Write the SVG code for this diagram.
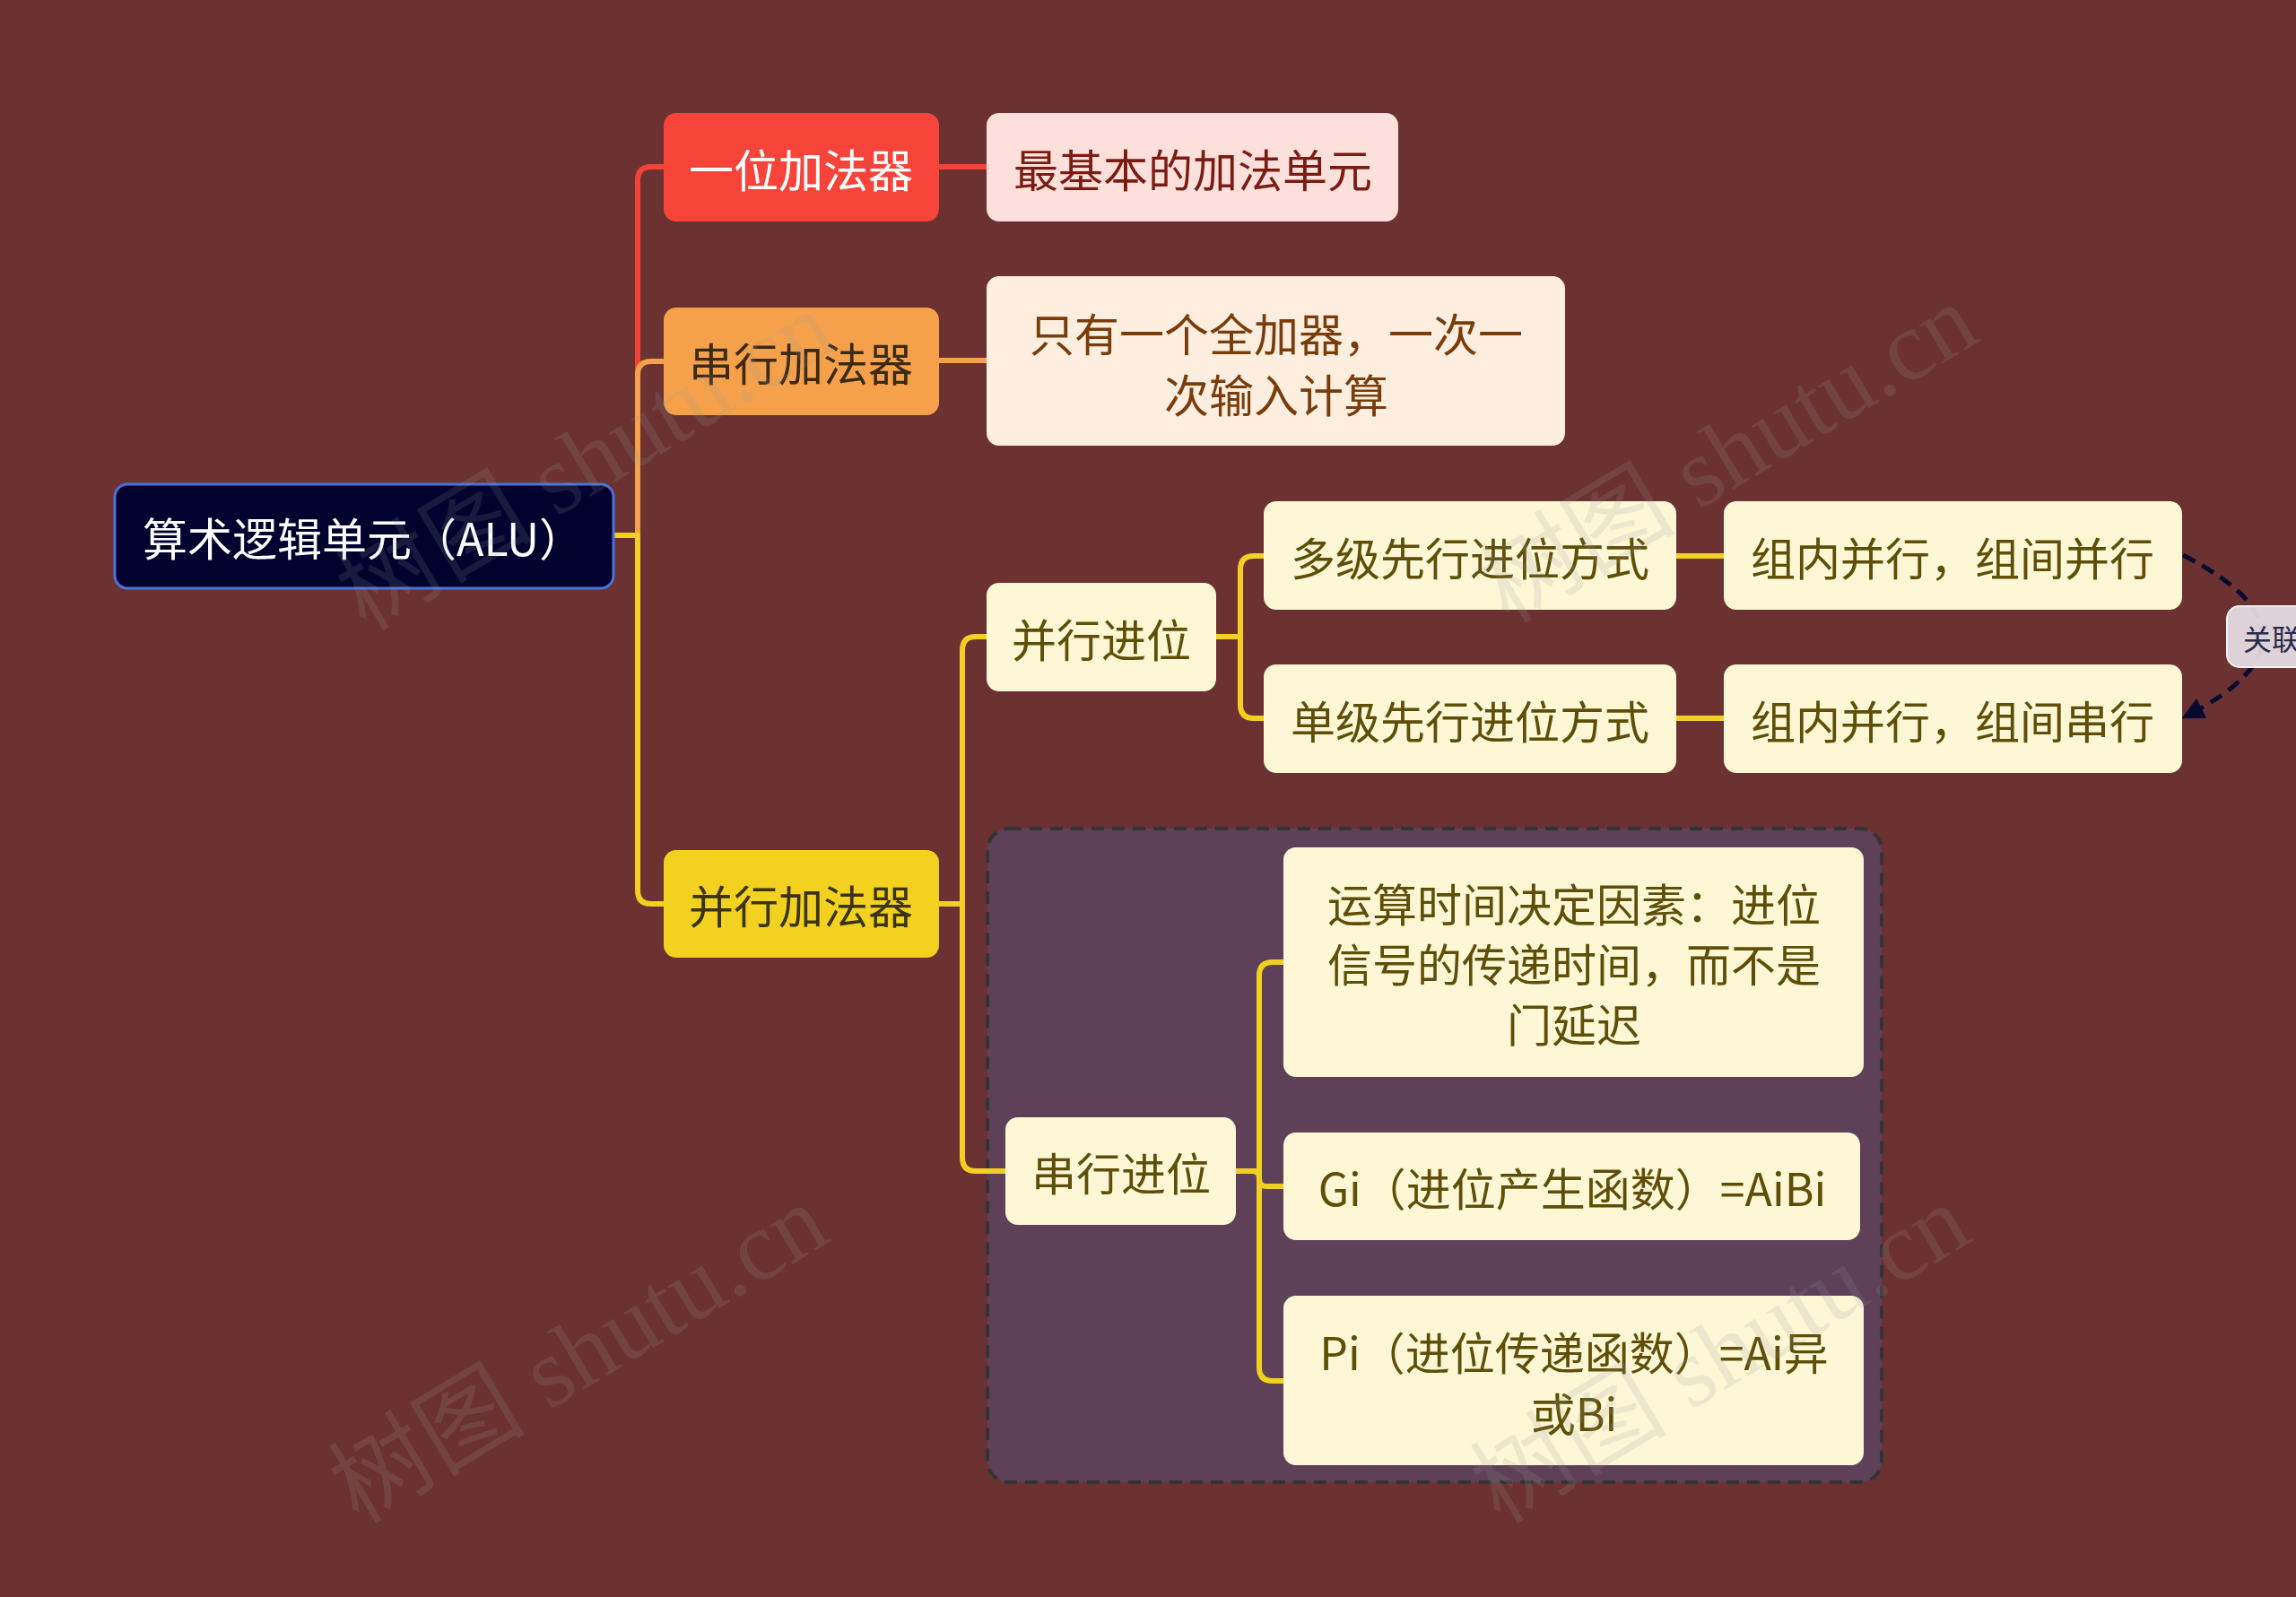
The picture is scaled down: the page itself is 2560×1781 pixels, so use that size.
<svg xmlns="http://www.w3.org/2000/svg" width="2560" height="1781" viewBox="0 0 2560 1781">
<style>
text{font-family:"Noto Sans CJK SC","Noto Sans",sans-serif;font-size:50px;text-anchor:middle;dominant-baseline:central}
.c{fill:none;stroke-width:6;stroke-linecap:round;stroke-linejoin:round}
.r{stroke:#f0443a}.o{stroke:#f5a04a}.y{stroke:#f2d022}
.cream{fill:#fdf7d6}
.ct{fill:#5e4e08}
.wm{font-family:"Liberation Serif","Noto Sans CJK SC",serif;font-size:110px;fill:#9a9a9a;opacity:0.16;text-anchor:middle}
</style>
<defs>
<marker id="ah" viewBox="0 0 10 10" refX="8" refY="5" markerWidth="5" markerHeight="5" orient="auto" markerUnits="strokeWidth">
<path d="M0,0 L10,5 L0,10 z" fill="#0a0a30"/>
</marker>
</defs>
<rect width="2560" height="1781" fill="#6c3131"/>

<g id="group-box">
<rect x="1101" y="924" width="997" height="729" rx="24" fill="#5e4058" stroke="#343436" stroke-width="4" stroke-dasharray="14 9"/>
</g>

<g id="connectors">
<path class="c r" d="M684,597 H711 V201 Q711,186 726,186 H740"/>
<path class="c o" d="M684,597 H711 V418 Q711,403 726,403 H740"/>
<path class="c y" d="M684,597 H711 V993 Q711,1008 726,1008 H740"/>
<path class="c r" d="M1047,186 H1100"/>
<path class="c o" d="M1047,402 H1100"/>
<path class="c y" d="M1047,1008 H1073 V725 Q1073,710 1088,710 H1100"/>
<path class="c y" d="M1047,1008 H1073 V1291 Q1073,1306 1088,1306 H1121"/>
<path class="c y" d="M1356,710 H1383 V635 Q1383,620 1398,620 H1409"/>
<path class="c y" d="M1356,710 H1383 V786 Q1383,801 1398,801 H1409"/>
<path class="c y" d="M1869,620 H1922"/>
<path class="c y" d="M1869,801 H1922"/>
<path class="c y" d="M1378,1306 H1404 V1088 Q1404,1073 1419,1073 H1431"/>
<path class="c y" d="M1378,1306 H1396 Q1404,1306 1404,1314 V1315 Q1404,1323 1412,1323 H1431"/>
<path class="c y" d="M1378,1306 H1404 V1525 Q1404,1540 1419,1540 H1431"/>
<path d="M2434,619 Q2611,710 2437,799" fill="none" stroke="#0a0a30" stroke-width="5" stroke-dasharray="15 9" marker-end="url(#ah)"/>
</g>

<g id="root">
<rect x="128" y="540" width="556" height="116" rx="14" fill="#02022e" stroke="#4a72d8" stroke-width="3"/>
<text x="405" y="598" fill="#ffffff">算术逻辑单元（ALU）</text>
</g>

<g id="n-yiwei">
<rect x="740" y="126" width="307" height="121" rx="14" fill="#f6443a"/>
<text x="893" y="187" fill="#ffffff">一位加法器</text>
</g>
<g id="n-zuijiben">
<rect x="1100" y="126" width="459" height="121" rx="14" fill="#fde0dc"/>
<text x="1330" y="187" fill="#7b1c12">最基本的加法单元</text>
</g>

<g id="n-chuanxing">
<rect x="740" y="343" width="307" height="120" rx="14" fill="#f5a14b"/>
<text x="893" y="403" fill="#3b2a14">串行加法器</text>
</g>
<g id="n-zhiyou">
<rect x="1100" y="308" width="645" height="189" rx="14" fill="#fdeedf"/>
<text x="1423" y="370" fill="#7a3c0a">只有一个全加器，一次一</text>
<text x="1423" y="438" fill="#7a3c0a">次输入计算</text>
</g>

<g id="n-bingxing">
<rect x="740" y="948" width="307" height="120" rx="14" fill="#f3d121"/>
<text x="893" y="1008" fill="#3a3410">并行加法器</text>
</g>

<g id="n-bingxingjinwei">
<rect class="cream" x="1100" y="650" width="256" height="121" rx="14"/>
<text class="ct" x="1228" y="711">并行进位</text>
</g>
<g id="n-duoji">
<rect class="cream" x="1409" y="559" width="460" height="121" rx="14"/>
<text class="ct" x="1639" y="620">多级先行进位方式</text>
</g>
<g id="n-danji">
<rect class="cream" x="1409" y="741" width="460" height="121" rx="14"/>
<text class="ct" x="1639" y="802">单级先行进位方式</text>
</g>
<g id="n-zunei1">
<rect class="cream" x="1922" y="559" width="511" height="121" rx="14"/>
<text class="ct" x="2177" y="620">组内并行，组间并行</text>
</g>
<g id="n-zunei2">
<rect class="cream" x="1922" y="741" width="511" height="121" rx="14"/>
<text class="ct" x="2177" y="802">组内并行，组间串行</text>
</g>

<g id="n-chuanxingjinwei">
<rect class="cream" x="1121" y="1246" width="257" height="120" rx="14"/>
<text class="ct" x="1250" y="1306">串行进位</text>
</g>
<g id="n-yunsuan">
<rect class="cream" x="1431" y="945" width="647" height="256" rx="14"/>
<text class="ct" x="1755" y="1006">运算时间决定因素：进位</text>
<text class="ct" x="1755" y="1073">信号的传递时间，而不是</text>
<text class="ct" x="1755" y="1140">门延迟</text>
</g>
<g id="n-gi">
<rect class="cream" x="1431" y="1263" width="643" height="120" rx="14"/>
<text class="ct" x="1753" y="1323">Gi（进位产生函数）=AiBi</text>
</g>
<g id="n-pi">
<rect class="cream" x="1431" y="1445" width="647" height="189" rx="14"/>
<text class="ct" x="1755" y="1506">Pi（进位传递函数）=Ai异</text>
<text class="ct" x="1755" y="1574">或Bi</text>
</g>

<g id="rel-label">
<rect x="2483" y="676" width="110" height="68" rx="14" fill="#e6e0e6" fill-opacity="0.92" stroke="#f4f0f4" stroke-width="2"/>
<text x="2501" y="711" style="font-size:32px;text-anchor:start;fill:#2a2a4a">关联</text>
</g>

<g id="watermarks">
<text class="wm" x="653" y="514" transform="rotate(-31 653 514)">树图 shutu.cn</text>
<text class="wm" x="1927" y="506" transform="rotate(-31 1927 506)">树图 shutu.cn</text>
<text class="wm" x="645" y="1510" transform="rotate(-31 645 1510)">树图 shutu.cn</text>
<text class="wm" x="1918" y="1510" transform="rotate(-31 1918 1510)">树图 shutu.cn</text>
</g>
</svg>
